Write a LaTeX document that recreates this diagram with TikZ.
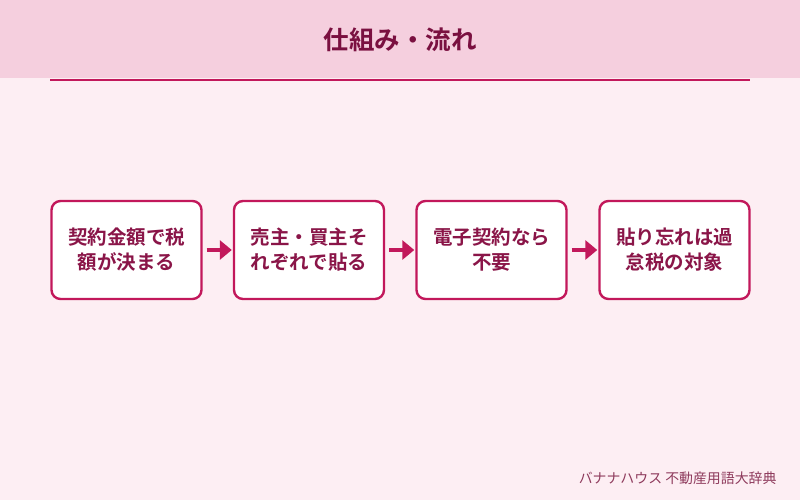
\documentclass[tikz,border=0pt]{standalone}
\usepackage{fontspec}
\newfontfamily\jp{Noto Sans CJK JP}
\newfontfamily\jpb{Noto Sans CJK JP Bold}
\usetikzlibrary{arrows.meta}
\definecolor{bg}{HTML}{FDEEF3}
\definecolor{hdr}{HTML}{F5CFDE}
\definecolor{accent}{HTML}{C2185B}
\definecolor{txt}{HTML}{8A1548}
\definecolor{ttl}{HTML}{7A1040}
\definecolor{foot}{HTML}{8E3A5C}
\tikzset{
  stepbox/.style={draw=accent, line width=2.4pt, fill=white, rounded corners=9pt,
    minimum width=150pt, minimum height=98pt, inner sep=0pt, align=center,
    font=\jpb\fontsize{19.5}{25}\selectfont, text=txt},
  flow/.style={draw=accent, line width=4.5pt, -{Triangle[length=12pt,width=19pt]}, shorten <=4pt, shorten >=1pt}
}
\begin{document}
\begin{tikzpicture}[x=1pt,y=-1pt]
\fill[bg] (0,0) rectangle (800,500);
\useasboundingbox (0,0) rectangle (800,500);
\fill[hdr] (0,0) rectangle (800,78);
\draw[accent, line width=2pt] (50,80.5) -- (750,80.5);
\node[font=\jpb\fontsize{25.5}{30}\selectfont, text=ttl] (title) at (400,40) {仕組み・流れ};
\node[stepbox] (b1) at (126.5,250) {契約金額で税\\額が決まる};
\node[stepbox] (b2) at (309,250) {売主・買主そ\\れぞれで貼る};
\node[stepbox] (b3) at (491.5,250) {電子契約なら\\不要};
\node[stepbox] (b4) at (674.5,250) {貼り忘れは過\\怠税の対象};
\draw[flow] (b1) -- (b2);
\draw[flow] (b2) -- (b3);
\draw[flow] (b3) -- (b4);
\node[anchor=east, font=\jp\fontsize{13.9}{16}\selectfont, text=foot] (foot) at (780,478) {バナナハウス 不動産用語大辞典};
\end{tikzpicture}
\end{document}
